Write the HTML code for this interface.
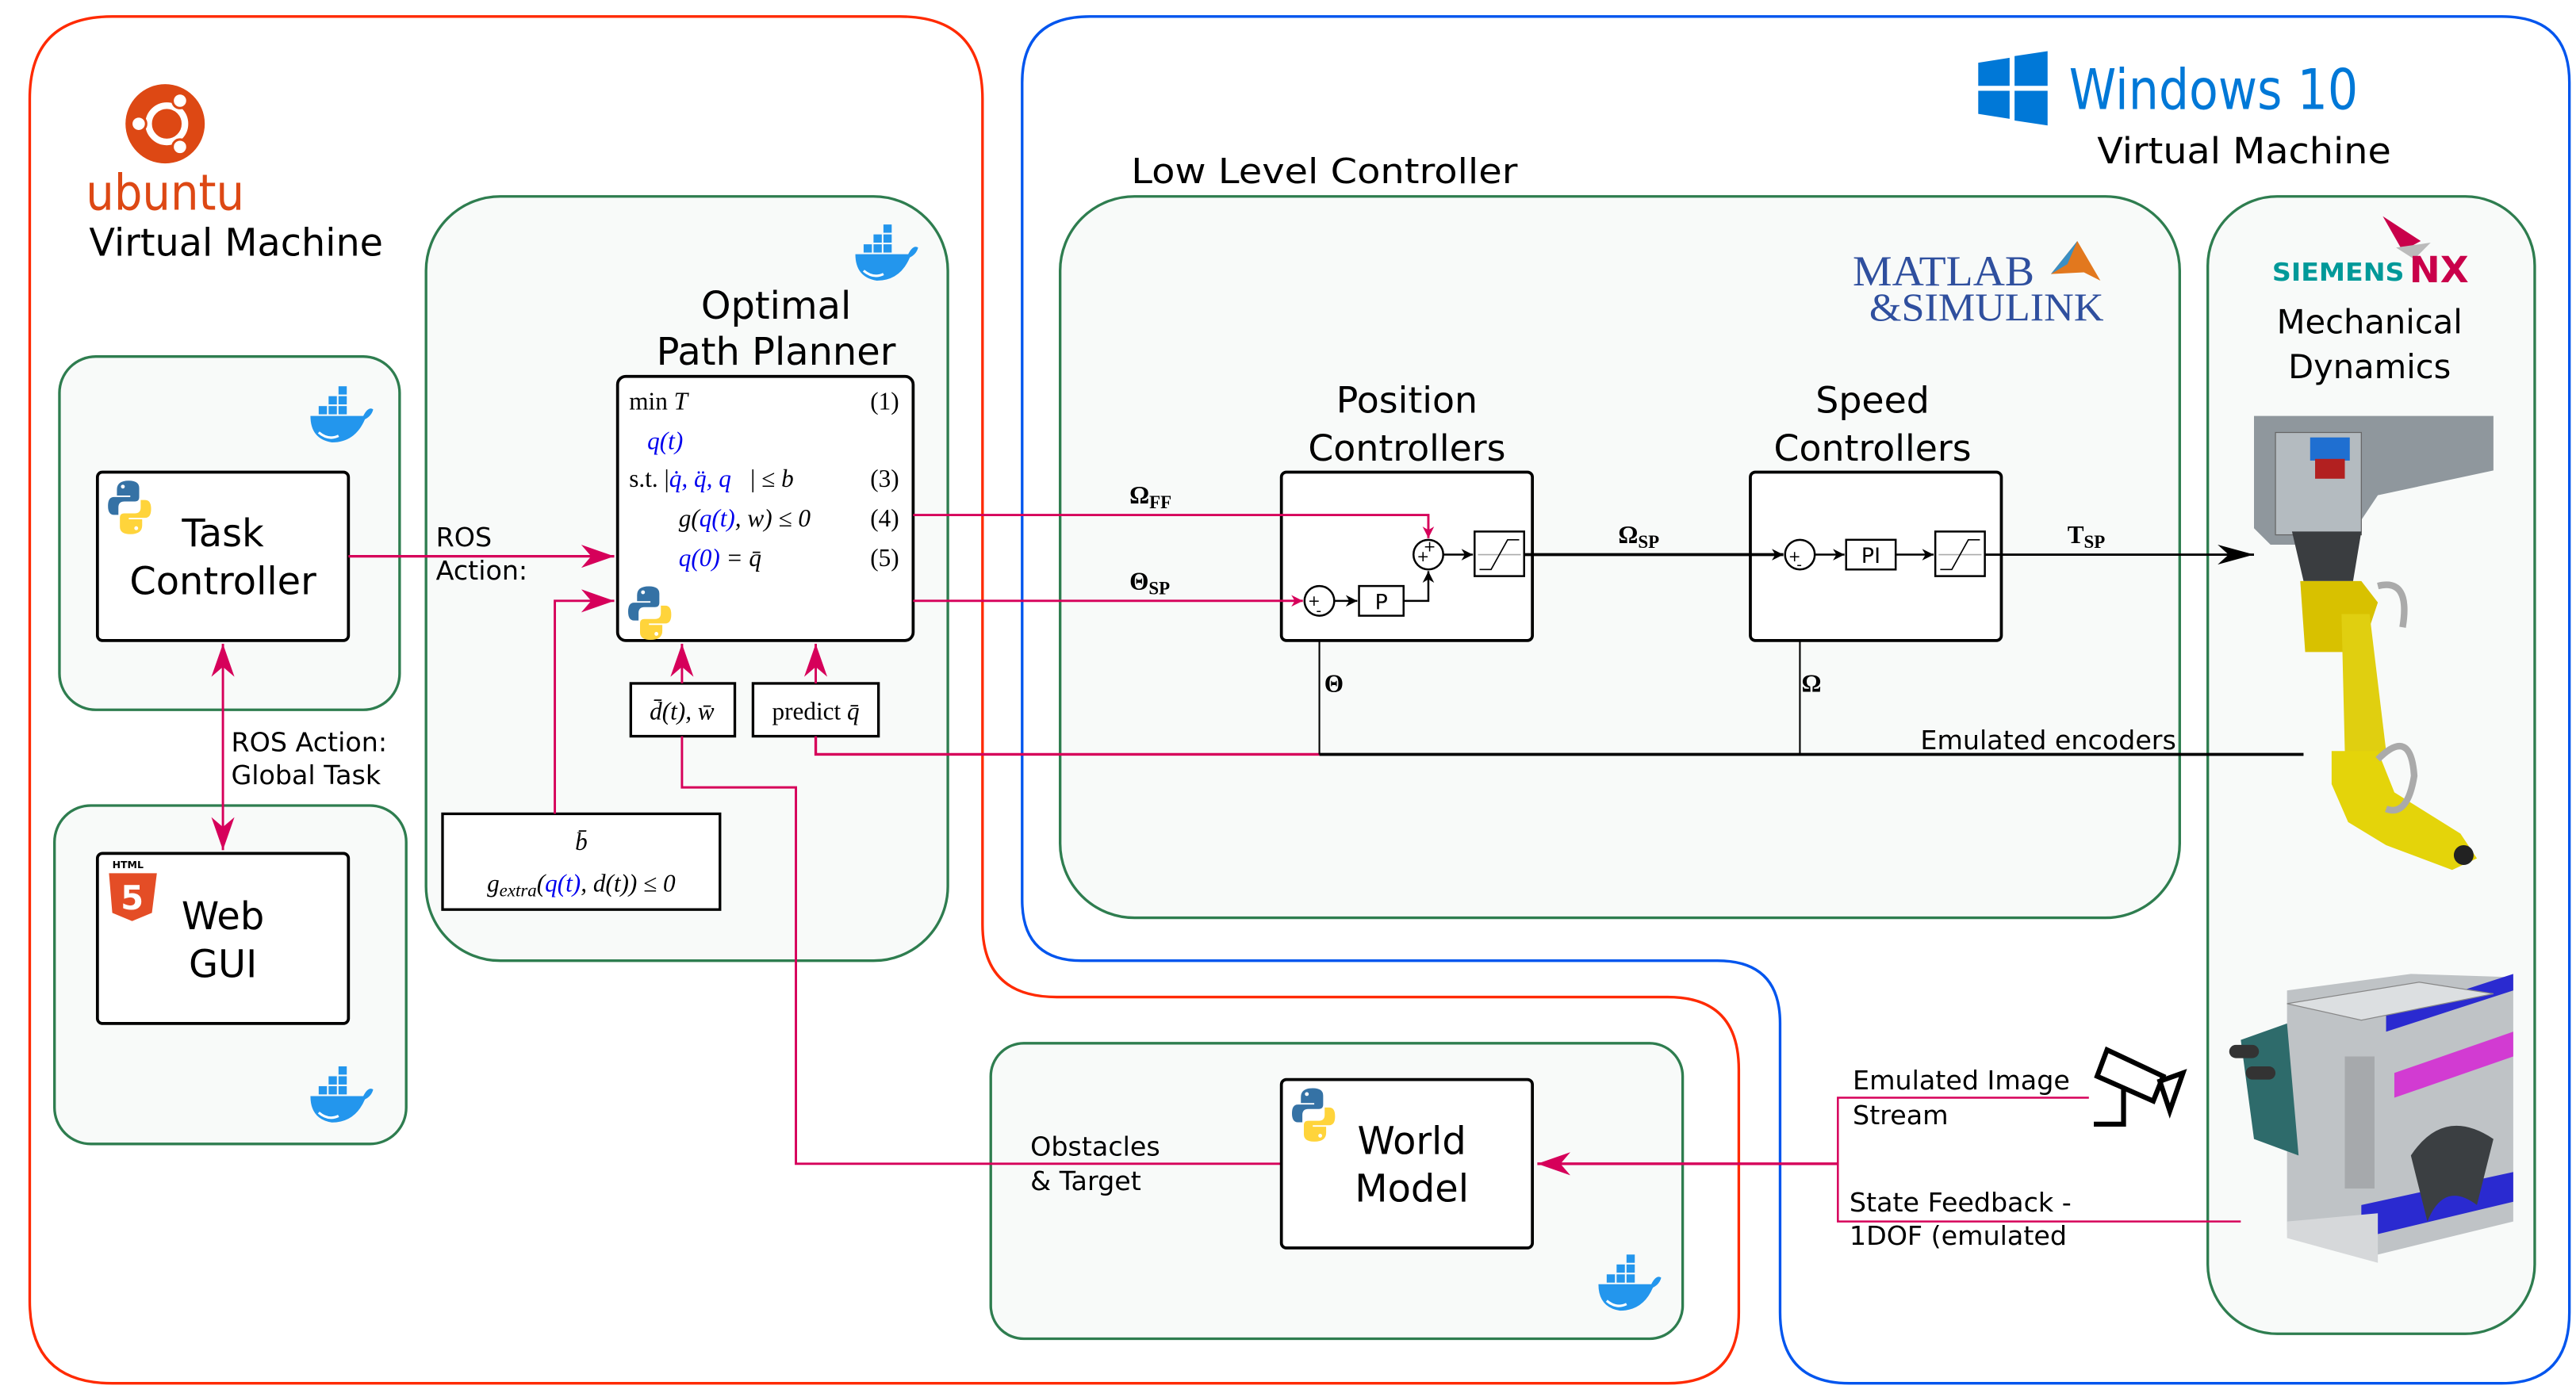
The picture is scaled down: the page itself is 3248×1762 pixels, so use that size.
<!DOCTYPE html>
<html><head><meta charset="utf-8"><style>
html,body{margin:0;padding:0;background:#fff;}
svg{display:block;}
.t{font-family:"DejaVu Sans","Liberation Sans",sans-serif;fill:#000;}
.m{font-family:"Liberation Serif",serif;font-style:italic;fill:#000;}
.r{font-family:"Liberation Serif",serif;fill:#000;}
.b{fill:#0000ee;}
</style></head><body>
<svg width="3248" height="1762" viewBox="0 0 1560 846.3" preserveAspectRatio="none" xmlns="http://www.w3.org/2000/svg">
<defs>
<marker id="ar" viewBox="0 0 10 10" refX="10" refY="5" markerWidth="7" markerHeight="7" orient="auto-start-reverse" markerUnits="userSpaceOnUse"><path d="M0,0 L10,5 L0,10 L3,5 Z" fill="#d6005a"/></marker>
<marker id="arL" viewBox="0 0 10 10" refX="10" refY="5" markerWidth="20" markerHeight="14" orient="auto-start-reverse" markerUnits="userSpaceOnUse" preserveAspectRatio="none"><path d="M0,0 L10,5 L0,10 L3,5 Z" fill="#d6005a"/></marker>
<marker id="ab" viewBox="0 0 10 10" refX="10" refY="5" markerWidth="7" markerHeight="7" orient="auto" markerUnits="userSpaceOnUse"><path d="M0,0 L10,5 L0,10 L3,5 Z" fill="#000"/></marker>
<marker id="abL" viewBox="0 0 10 10" refX="10" refY="5" markerWidth="22" markerHeight="12" orient="auto" markerUnits="userSpaceOnUse" preserveAspectRatio="none"><path d="M0,0 L10,5 L0,10 L3,5 Z" fill="#000"/></marker>
<g id="dock"><path d="M-17,2 H15 Q18,-4 21,-2 Q20,2 16,4 Q10,18 -4,18 Q-17,16 -17,2Z" fill="#2396ed"/><rect x="-12" y="-4" width="5" height="5" fill="#2396ed"/><rect x="-6" y="-4" width="5" height="5" fill="#2396ed"/><rect x="0" y="-4" width="5" height="5" fill="#2396ed"/><rect x="-6" y="-10" width="5" height="5" fill="#2396ed"/><rect x="0" y="-10" width="5" height="5" fill="#2396ed"/><rect x="0" y="-16" width="5" height="5" fill="#2396ed"/><path d="M-12,12 Q-6,17 0,14" stroke="#fff" stroke-width="1.5" fill="none"/></g>
<g id="py"><path d="M0,-12 Q-8,-12 -8,-6 V-2 H1 V-1 H-10 Q-14,-1 -14,5 Q-14,11 -10,11 H-7 V6 Q-7,2 -3,2 H4 Q7,2 7,-1 V-7 Q7,-12 0,-12Z" fill="#3572a5"/><path d="M1,24 Q9,24 9,18 V14 H0 V13 H11 Q15,13 15,7 Q15,1 11,1 H8 V6 Q8,10 4,10 H-3 Q-6,10 -6,13 V19 Q-6,24 1,24Z" fill="#ffd43b"/><circle cx="-4" cy="-8" r="1.3" fill="#fff"/><circle cx="5" cy="20" r="1.3" fill="#fff"/></g>
</defs>

<!-- VM outlines -->
<path d="M18,60 Q18,10 68,10 H545 Q595,10 595,60 V560 Q595,604 640,604 H1010 Q1053,604 1053,648 V795 Q1053,838 1010,838 H68 Q18,838 18,788 Z" fill="none" stroke="#ff2a00" stroke-width="1.6"/>
<path d="M619,50 Q619,10 660,10 H1515 Q1556,10 1556,50 V795 Q1556,838 1515,838 H1120 Q1078,838 1078,795 V620 Q1078,582 1040,582 H655 Q619,582 619,545 Z" fill="none" stroke="#0055ee" stroke-width="1.6"/>

<!-- green panels -->
<g fill="#f8faf9" stroke="#2e7d4f" stroke-width="1.6">
<rect x="36" y="216" width="206" height="214" rx="22"/>
<rect x="33" y="488" width="213" height="205" rx="22"/>
<rect x="258" y="119" width="316" height="463" rx="45"/>
<rect x="642" y="119" width="678" height="437" rx="45"/>
<rect x="1337" y="119" width="198" height="689" rx="42"/>
<rect x="600" y="632" width="419" height="179" rx="20"/>
</g>

<!-- ubuntu -->
<circle cx="100" cy="75" r="24" fill="#dd4814"/>
<circle cx="101" cy="75" r="11" fill="none" stroke="#fff" stroke-width="4"/>
<circle cx="84" cy="75" r="4.5" fill="#fff" stroke="#dd4814" stroke-width="1.5"/>
<circle cx="109" cy="61" r="4.5" fill="#fff" stroke="#dd4814" stroke-width="1.5"/>
<circle cx="109" cy="89" r="4.5" fill="#fff" stroke="#dd4814" stroke-width="1.5"/>
<text x="52" y="127" class="t" style="fill:#dd4814" font-size="30" textLength="96" lengthAdjust="spacingAndGlyphs">ubuntu</text>
<text x="54" y="155" class="t" font-size="23" textLength="178" lengthAdjust="spacingAndGlyphs">Virtual Machine</text>

<!-- windows -->
<path d="M1198,38 L1217,35 V52 H1198Z M1220,34 L1240,31 V52 H1220Z M1198,55 H1217 V72 L1198,69Z M1220,55 H1240 V76 L1220,73Z" fill="#0078d7"/>
<text x="1253" y="66" class="t" style="fill:#0078d7" font-size="34" textLength="175" lengthAdjust="spacingAndGlyphs">Windows 10</text>
<text x="1270" y="99" class="t" font-size="22" textLength="178" lengthAdjust="spacingAndGlyphs">Virtual Machine</text>
<text x="685" y="111" class="t" font-size="21" textLength="234" lengthAdjust="spacingAndGlyphs">Low Level Controller</text>

<!-- matlab -->
<text x="1122" y="173" class="r" style="fill:#2f4f9e" font-size="26" textLength="110" lengthAdjust="spacingAndGlyphs">MATLAB</text>
<text x="1132" y="194" class="r" style="fill:#2f4f9e" font-size="24" textLength="142" lengthAdjust="spacingAndGlyphs">&amp;SIMULINK</text>
<path d="M1242,166 L1258,146 L1272,170 L1262,165 Z" fill="#e2781e"/><path d="M1242,166 L1252,160 L1258,146Z" fill="#3a8fc4"/>

<!-- siemens -->
<path d="M1443,131 L1466,146 L1455,152Z" fill="#c9004a"/><path d="M1451,150 L1472,147 L1462,157Z" fill="#bbb"/>
<text x="1376" y="170" class="t" style="fill:#009999;font-weight:bold" font-size="15" textLength="80" lengthAdjust="spacingAndGlyphs">SIEMENS</text>
<text x="1459" y="171" class="t" style="fill:#c9004a;font-weight:bold" font-size="22" textLength="36" lengthAdjust="spacingAndGlyphs">NX</text>
<text x="1435" y="202" class="t" font-size="20" text-anchor="middle">Mechanical</text>
<text x="1435" y="229" class="t" font-size="20" text-anchor="middle">Dynamics</text>

<!-- dockers -->
<use href="#dock" transform="translate(535,152)"/>
<use href="#dock" transform="translate(205,250)"/>
<use href="#dock" transform="translate(205,662)"/>
<use href="#dock" transform="translate(985,776)"/>

<!-- Task controller -->
<rect x="59" y="286" width="152" height="102" rx="3" fill="#fff" stroke="#000" stroke-width="1.8"/>
<use href="#py" transform="translate(78,302) scale(0.9)"/>
<text x="135" y="331" class="t" font-size="23" text-anchor="middle">Task</text>
<text x="135" y="360" class="t" font-size="23" text-anchor="middle">Controller</text>

<!-- Web GUI -->
<rect x="59" y="517" width="152" height="103" rx="3" fill="#fff" stroke="#000" stroke-width="1.8"/>
<text x="68" y="526" class="t" font-size="6" font-weight="bold">HTML</text>
<path d="M66,529 H95 L92,553 L80,558 L68,553Z" fill="#e44d26"/>
<text x="80" y="551" class="t" style="fill:#fff;font-weight:bold" font-size="20" text-anchor="middle">5</text>
<text x="135" y="563" class="t" font-size="23" text-anchor="middle">Web</text>
<text x="135" y="592" class="t" font-size="23" text-anchor="middle">GUI</text>

<!-- ROS action between -->
<line x1="135" y1="390" x2="135" y2="515" stroke="#d6005a" stroke-width="1.4" marker-start="url(#arL)" marker-end="url(#arL)"/>
<text x="140" y="455" class="t" font-size="16">ROS Action:</text>
<text x="140" y="475" class="t" font-size="16">Global Task</text>

<!-- Planner -->
<text x="470" y="193" class="t" font-size="23" text-anchor="middle">Optimal</text>
<text x="470" y="221" class="t" font-size="23" text-anchor="middle">Path Planner</text>
<rect x="374" y="228" width="179" height="160" rx="5" fill="#fff" stroke="#000" stroke-width="1.8"/>
<text x="381" y="248" class="r" font-size="15">min <tspan class="m">T</tspan></text>
<text x="527" y="248" class="r" font-size="15">(1)</text>
<text x="392" y="272" class="m b" font-size="15">q(t)</text>
<text x="381" y="295" class="r" font-size="15">s.t. |<tspan class="m b">q̇, q̈, q⃛</tspan>| ≤ <tspan class="m">b</tspan></text>
<text x="527" y="295" class="r" font-size="15">(3)</text>
<text x="411" y="319" class="m" font-size="15">g(<tspan class="b">q(t)</tspan>, w) <tspan class="r">≤ 0</tspan></text>
<text x="527" y="319" class="r" font-size="15">(4)</text>
<text x="411" y="343" class="m" font-size="15"><tspan class="b">q(0)</tspan><tspan class="r"> = </tspan>q̄</text>
<text x="527" y="343" class="r" font-size="15">(5)</text>
<use href="#py" transform="translate(393,366) scale(0.9)"/>

<line x1="211" y1="337" x2="372" y2="337" stroke="#d6005a" stroke-width="1.6" marker-end="url(#arL)"/>
<text x="264" y="331" class="t" font-size="16">ROS</text>
<text x="264" y="351" class="t" font-size="16">Action:</text>

<rect x="382" y="414" width="63" height="32" fill="#fff" stroke="#000" stroke-width="1.6"/>
<text x="413" y="436" class="m" font-size="15" text-anchor="middle">d̄(t), w̄</text>
<rect x="456" y="414" width="76" height="32" fill="#fff" stroke="#000" stroke-width="1.6"/>
<text x="494" y="436" class="r" font-size="15" text-anchor="middle">predict <tspan class="m">q̄</tspan></text>
<line x1="413" y1="414" x2="413" y2="390" stroke="#d6005a" stroke-width="1.4" marker-end="url(#arL)"/>
<line x1="494" y1="414" x2="494" y2="390" stroke="#d6005a" stroke-width="1.4" marker-end="url(#arL)"/>

<rect x="268" y="493" width="168" height="58" fill="#fff" stroke="#000" stroke-width="1.6"/>
<text x="352" y="515" class="m" font-size="15" text-anchor="middle">b̄</text>
<text x="352" y="540" class="m" font-size="15" text-anchor="middle">g<tspan font-size="11" dy="3">extra</tspan><tspan dy="-3">(</tspan><tspan class="b">q(t)</tspan>, d(t)) <tspan class="r">≤ 0</tspan></text>
<polyline points="336,493 336,364 372,364" fill="none" stroke="#d6005a" stroke-width="1.4" marker-end="url(#arL)"/>

<!-- d line to world model -->
<polyline points="413,446 413,477 482,477 482,705 776,705" fill="none" stroke="#d6005a" stroke-width="1.4"/>
<text x="624" y="700" class="t" font-size="16">Obstacles</text>
<text x="624" y="721" class="t" font-size="16">&amp; Target</text>

<!-- predict / encoders -->
<polyline points="494,446 494,457 799,457" fill="none" stroke="#d6005a" stroke-width="1.6"/>
<line x1="799" y1="457" x2="1395" y2="457" stroke="#000" stroke-width="1.8"/>
<text x="1163" y="454" class="t" font-size="16">Emulated encoders</text>
<line x1="799" y1="457" x2="799" y2="374" stroke="#000" stroke-width="1" marker-end="url(#ab)"/>
<line x1="1090" y1="457" x2="1090" y2="346" stroke="#000" stroke-width="1" marker-end="url(#ab)"/>
<text x="802" y="419" class="r" font-size="15" font-weight="bold">Θ</text>
<text x="1091" y="419" class="r" font-size="15" font-weight="bold">Ω</text>

<!-- Position controllers -->
<text x="852" y="250" class="t" font-size="22" text-anchor="middle">Position</text>
<text x="852" y="279" class="t" font-size="22" text-anchor="middle">Controllers</text>
<rect x="776" y="286" width="152" height="102" rx="3" fill="#fff" stroke="#000" stroke-width="1.8"/>
<text x="1134" y="250" class="t" font-size="22" text-anchor="middle">Speed</text>
<text x="1134" y="279" class="t" font-size="22" text-anchor="middle">Controllers</text>
<rect x="1060" y="286" width="152" height="102" rx="3" fill="#fff" stroke="#000" stroke-width="1.8"/>

<polyline points="553,312 865,312 865,326" fill="none" stroke="#d6005a" stroke-width="1.4" marker-end="url(#ar)"/>
<line x1="553" y1="364" x2="789" y2="364" stroke="#d6005a" stroke-width="1.4" marker-end="url(#ar)"/>
<text x="684" y="305" class="r" font-size="15" font-weight="bold">Ω<tspan font-size="11" dy="3">FF</tspan></text>
<text x="684" y="357" class="r" font-size="15" font-weight="bold">Θ<tspan font-size="11" dy="3">SP</tspan></text>

<circle cx="799" cy="364" r="9" fill="#fff" stroke="#000" stroke-width="1.2"/>
<text x="792" y="367" class="t" font-size="9">+</text><text x="797" y="373" class="t" font-size="9">-</text>
<line x1="808" y1="364" x2="822" y2="364" stroke="#000" stroke-width="1.2" marker-end="url(#ab)"/>
<rect x="823" y="355" width="27" height="18" fill="#fff" stroke="#000" stroke-width="1.2"/>
<text x="836.5" y="369" class="t" font-size="13" text-anchor="middle">P</text>
<polyline points="850,364 865,364 865,346" fill="none" stroke="#000" stroke-width="1.2" marker-end="url(#ab)"/>
<circle cx="865" cy="336" r="9" fill="#fff" stroke="#000" stroke-width="1.2"/>
<text x="858" y="340" class="t" font-size="9">+</text><text x="862" y="334" class="t" font-size="9">+</text>
<line x1="874" y1="336" x2="892" y2="336" stroke="#000" stroke-width="1.2" marker-end="url(#ab)"/>
<rect x="893" y="322" width="30" height="27" fill="#fff" stroke="#000" stroke-width="1.2"/>
<line x1="895" y1="336" x2="921" y2="336" stroke="#aaa" stroke-width="0.8"/>
<polyline points="896,345 903,345 913,327 920,327" fill="none" stroke="#000" stroke-width="0.8"/>
<line x1="923" y1="336" x2="1080" y2="336" stroke="#000" stroke-width="1.8" marker-end="url(#ab)"/>
<text x="980" y="329" class="r" font-size="15" font-weight="bold">Ω<tspan font-size="11" dy="3">SP</tspan></text>

<circle cx="1090" cy="336" r="9" fill="#fff" stroke="#000" stroke-width="1.2"/>
<text x="1083" y="340" class="t" font-size="9">+</text><text x="1088" y="345" class="t" font-size="9">-</text>
<line x1="1099" y1="336" x2="1117" y2="336" stroke="#000" stroke-width="1.2" marker-end="url(#ab)"/>
<rect x="1118" y="327" width="30" height="18" fill="#fff" stroke="#000" stroke-width="1.2"/>
<text x="1133" y="341" class="t" font-size="13" text-anchor="middle">PI</text>
<line x1="1148" y1="336" x2="1171" y2="336" stroke="#000" stroke-width="1.2" marker-end="url(#ab)"/>
<rect x="1172" y="322" width="30" height="27" fill="#fff" stroke="#000" stroke-width="1.2"/>
<line x1="1174" y1="336" x2="1200" y2="336" stroke="#aaa" stroke-width="0.8"/>
<polyline points="1175,345 1182,345 1192,327 1199,327" fill="none" stroke="#000" stroke-width="0.8"/>
<line x1="1202" y1="336" x2="1365" y2="336" stroke="#000" stroke-width="1.4" marker-end="url(#abL)"/>
<text x="1252" y="329" class="r" font-size="15" font-weight="bold">T<tspan font-size="11" dy="3">SP</tspan></text>

<!-- robot illustration -->
<g>
<path d="M1365,252 H1510 V285 L1440,300 L1420,330 H1375 L1365,320Z" fill="#8f979d"/>
<rect x="1378" y="262" width="52" height="62" fill="#b4bbc0" stroke="#666" stroke-width="0.6"/>
<rect x="1399" y="265" width="24" height="14" fill="#1f6fd1"/>
<rect x="1402" y="278" width="18" height="12" fill="#b22020"/>
<path d="M1388,322 H1430 L1425,352 H1395Z" fill="#3a3d40"/>
<path d="M1393,352 H1430 L1440,365 L1430,395 H1396 Z" fill="#d8c100"/>
<path d="M1418,372 L1435,372 L1445,455 L1432,462 L1420,455Z" fill="#e0cf10"/>
<path d="M1440,355 Q1460,350 1455,380" stroke="#aaa" stroke-width="4" fill="none"/>
<path d="M1412,455 H1440 L1450,480 L1490,505 L1500,520 L1485,527 L1445,512 L1422,498 L1412,475Z" fill="#e4d40a"/>
<path d="M1440,460 Q1460,440 1462,470 Q1458,495 1445,490" stroke="#aaa" stroke-width="4" fill="none"/>
<circle cx="1492" cy="518" r="6" fill="#222"/>
</g>
<!-- linear axis -->
<g>
<path d="M1385,600 L1460,590 L1522,592 V740 L1440,760 L1385,745Z" fill="#bfc3c6"/>
<path d="M1445,615 L1522,590 V600 L1445,625Z" fill="#2a2ad0"/>
<path d="M1450,650 L1522,625 V640 L1450,665Z" fill="#d23bd2"/>
<path d="M1430,730 L1522,710 V728 L1430,750Z" fill="#2a2ad0"/>
<path d="M1385,608 L1465,595 L1510,602 L1430,618Z" fill="#dcdfe1" stroke="#888" stroke-width="0.6"/>
<path d="M1357,630 L1385,620 L1392,700 L1365,690Z" fill="#2e6b6b"/>
<rect x="1350" y="633" width="18" height="8" rx="4" fill="#333"/><rect x="1360" y="646" width="18" height="8" rx="4" fill="#333"/>
<rect x="1420" y="640" width="18" height="80" fill="#a6a9ac"/>
<path d="M1460,700 Q1480,670 1510,690 L1500,730 Q1480,715 1470,740Z" fill="#3b3f42"/>
<path d="M1385,740 L1440,735 L1440,765 L1385,750Z" fill="#d6d8da"/>
</g>

<!-- camera -->
<g fill="none" stroke="#000" stroke-width="3">
<path d="M1270,652 L1276,636 L1310,652 L1304,667Z"/>
<path d="M1308,655 L1322,650 L1314,673Z"/>
<path d="M1286,660 V681 H1268"/>
</g>

<!-- feedback lines -->
<polyline points="1265,665 1113,665 1113,740 1357,740" fill="none" stroke="#d6005a" stroke-width="1.2"/>
<line x1="1113" y1="705" x2="931" y2="705" stroke="#d6005a" stroke-width="1.6" marker-end="url(#arL)"/>
<text x="1122" y="660" class="t" font-size="16">Emulated Image</text>
<text x="1122" y="681" class="t" font-size="16">Stream</text>
<text x="1120" y="734" class="t" font-size="16">State Feedback -</text>
<text x="1120" y="754" class="t" font-size="16">1DOF (emulated</text>

<!-- World model -->
<rect x="776" y="654" width="152" height="102" rx="3" fill="#fff" stroke="#000" stroke-width="1.8"/>
<use href="#py" transform="translate(795,670) scale(0.9)"/>
<text x="855" y="699" class="t" font-size="23" text-anchor="middle">World</text>
<text x="855" y="728" class="t" font-size="23" text-anchor="middle">Model</text>
</svg>
</body></html>
